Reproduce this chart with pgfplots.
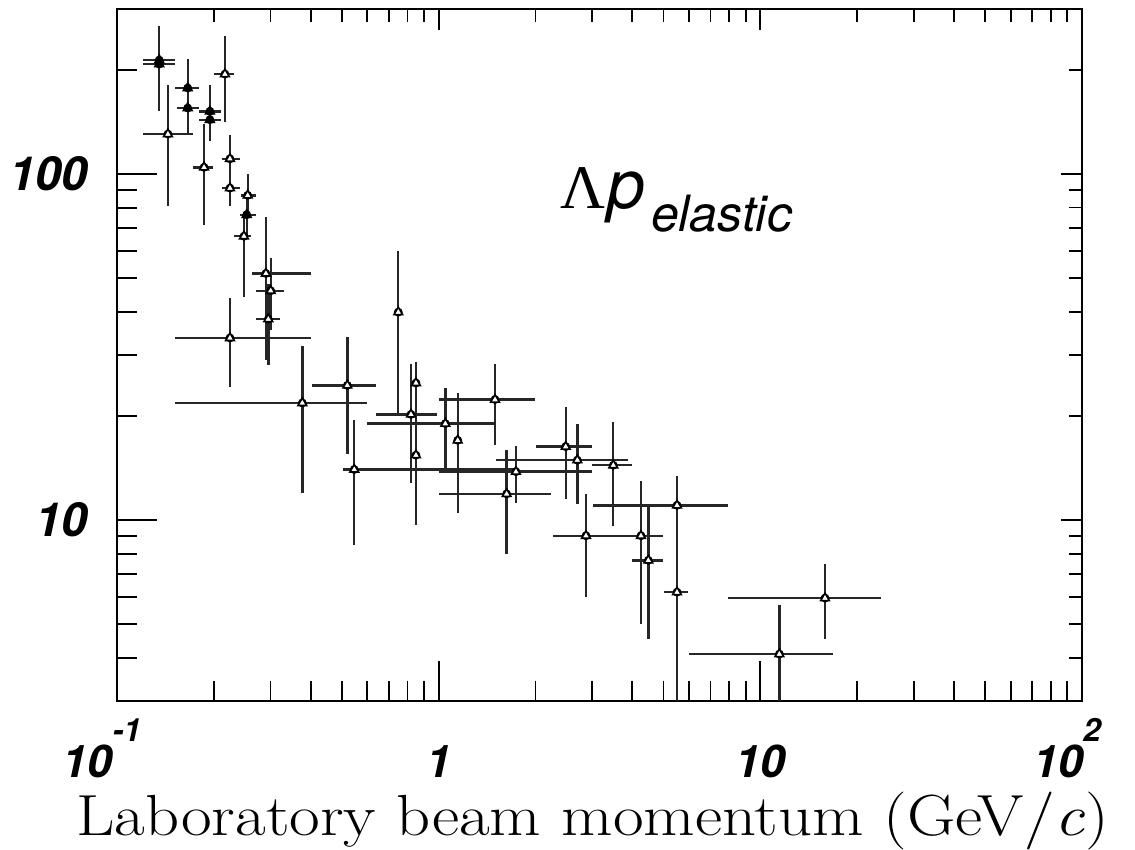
\documentclass[border=0pt]{standalone}
\usepackage{fontspec}
\setsansfont{TeX Gyre Heros}
\newfontfamily\greekserif{Liberation Serif}
\usepackage{pgfplots}
\usepackage{pgfplotstable}
\pgfplotsset{compat=1.18}

% columns: momentum, value, x error minus/plus, y error minus/plus
\pgfplotstableread{
x      y      exm     exp     eym   eyp
0.1440 130.5  0.0233  0.0279  49.7  50.3
0.2166 194.5  0.0159  0.0145  53.2  56.5
0.1865 104.6  0.0139  0.0128  33.5  34.9
0.2245 110.7  0.0129  0.0167  16.5  19.0
0.2245 91.1   0.0129  0.0167  10.4  12.9
0.2549 86.8   0.0121  0.0155  9.7   13.2
0.2481 66.1   0.0170  0.0129  22.1  10.9
0.2904 51.6   0.0281  0.1097  22.5  23.4
0.3005 46.0   0.0301  0.0300  10.5  11.2
0.2954 38.1   0.0250  0.0258  10.0  10.0
0.2245 33.6   0.0730  0.1756  9.4   10.2
0.749  39.9   0       0       19.5  19.9
0.520  24.5   0.117   0.117   9.0   9.3
0.3768 21.8   0.2253  0.2208  9.8   10.0
0.5465 14.0   0.0435  1.2035  5.5   5.5
0.8203 20.2   0.1833  0.1697  7.4   8.0
0.850  24.9   0       0       5.0   3.8
0.850  15.4   0       0       5.7   5.0
1.049  19.0   0.4514  0.448   4.9   5.1
1.146  17.0   0       0       6.5   6.3
1.627  11.9   0.625   0.608   3.9   4.0
1.497  22.3   0.495   0.496   5.8   5.9
1.739  13.8   0.739   1.261   2.6   2.6
2.698  14.9   1.191   1.189   3.8   4.1
2.483  16.3   0.481   0.520   4.8   4.9
3.491  14.4   0.488   0.509   4.8   4.8
2.871  9.01   0.609   0.765   3.02  2.89
4.256  9.01   0.620   0.737   4.0   4.0
4.485  7.65   0.485   0.508   3.12  3.35
5.508  11.03  2.498   2.412   9.0   2.37
5.508  6.19   0.478   0.442   4.19  2.68
15.89  5.95   7.94    7.91    1.42  1.51
11.46  4.10   5.46    5.40    1.6   1.57
}\openpts

\pgfplotstableread{
x      y      exm     exp     eym   eyp
0.1353 213.5  0.0146  0.0162  47.6  53.5
0.1353 207.9  0.0146  0.0162  56.1  31.1
0.1659 177.3  0.0144  0.0140  30.2  37.7
0.1659 155.2  0.0126  0.0140  23.8  28.0
0.1945 151.8  0.0142  0.0156  16.0  28.7
0.1945 143.6  0.0142  0.0156  19.3  22.3
0.2531 76.3   0.0119  0.0173  11.0  8.9
}\filledpts

\newcommand\expo[1]{\raisebox{18pt}{\fontsize{16}{16}\selectfont #1}}

\pgfplotsset{
  lpframe/.style={
    at={(0pt,0pt)}, anchor=south west, scale only axis,
    width=482.5pt, height=346pt,
    xmin=0.1, xmax=100, ymin=3, ymax=300,
    axis line style={line width=1.1pt},
    tick align=inside,
    every tick/.style={black, line width=0.9pt},
    xtick={0.1,1,10,100},
    minor xtick={0.2,0.3,0.4,0.5,0.6,0.7,0.8,0.9,2,3,4,5,6,7,8,9,20,30,40,50,60,70,80,90},
    ytick={10,100},
    minor ytick={4,5,6,7,8,9,20,30,40,50,60,70,80,90,200},
  },
  errbars/.style={
    only marks, mark=none,
    error bars/.cd,
      x dir=both, x explicit, y dir=both, y explicit,
      error mark=none,
      error bar style={draw=black!85, line width=1.2pt, solid},
  },
  tri/.style={only marks, mark=triangle*, mark size=2.5pt,
    mark options={fill=#1, draw=black, line width=0.8pt, solid}},
}

\begin{document}
\begin{tikzpicture}
\path[use as bounding box] (-58.5pt,-74.5pt) rectangle (509pt,350.5pt);

% top and right ticks (shorter)
\begin{loglogaxis}[lpframe,
  xtick pos=right, ytick pos=right,
  major tick length=10.5pt, minor tick length=6.5pt,
  xticklabels={}, yticklabels={},
]
\end{loglogaxis}

\begin{loglogaxis}[lpframe,
  xtick pos=left, ytick pos=left,
  major tick length=20pt, minor tick length=10pt,
  xticklabels={10\expo{-1}\hspace*{15pt}, 1, 10, 10\expo{2}\hspace*{15pt}},
  yticklabels={10, 100},
  xticklabel style={anchor=base, inner sep=0pt, yshift=-38.5pt,
    font=\sffamily\bfseries\itshape\fontsize{22.5}{22.5}\selectfont},
  yticklabel style={anchor=east, inner sep=0pt, xshift=-14.5pt,
    font=\sffamily\bfseries\itshape\fontsize{23.5}{23.5}\selectfont},
  xlabel={\scalebox{1.15}[1]{Laboratory beam momentum (GeV/\textit{c})}},
  xlabel style={at={(axis description cs:0.493,0)}, anchor=base,
    yshift=-67.5pt, inner sep=0pt, font=\fontsize{29}{29}\selectfont},
  clip=true,
]
\addplot[errbars] table[x=x, y=y, x error minus=exm, x error plus=exp,
  y error minus=eym, y error plus=eyp] {\openpts};
\addplot[errbars] table[x=x, y=y, x error minus=exm, x error plus=exp,
  y error minus=eym, y error plus=eyp] {\filledpts};
\addplot[tri=white] table[x=x, y=y] {\openpts};
\addplot[tri=black] table[x=x, y=y] {\filledpts};

\node[anchor=base west, inner sep=0pt] at (rel axis cs:0.459,0.712)
  {{\greekserif\fontsize{31}{31}\selectfont Λ}\kern1pt%
   {\sffamily\itshape\fontsize{34}{34}\selectfont p}\kern3pt%
   \raisebox{-11.7pt}{\sffamily\itshape\fontsize{25}{25}\selectfont elastic}};
\end{loglogaxis}
\end{tikzpicture}
\end{document}
